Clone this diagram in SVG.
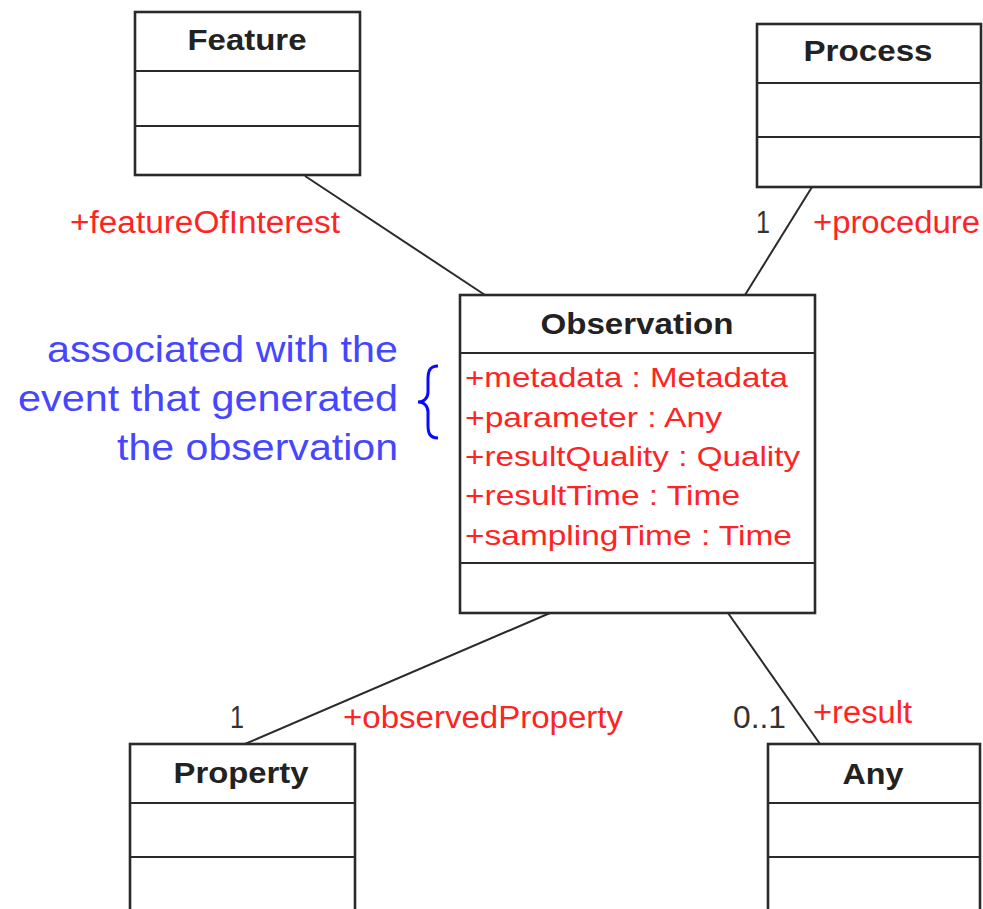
<svg xmlns="http://www.w3.org/2000/svg" width="983" height="909" viewBox="0 0 983 909">
  <style>
    .box { fill: #ffffff; stroke: #2a2a2a; stroke-width: 2.6; }
    .div { stroke: #2a2a2a; stroke-width: 2.2; }
    .conn { stroke: #2a2a2a; stroke-width: 2; fill: none; }
    .title { font-family: "Liberation Sans", Arial, sans-serif; font-weight: bold; font-size: 30px; fill: #222222; text-anchor: middle; }
    .attr { font-family: "Liberation Sans", Arial, sans-serif; font-size: 28.5px; fill: #ff2424; }
    .role { font-family: "Liberation Sans", Arial, sans-serif; font-size: 31px; fill: #ff2424; }
    .mult { font-family: "Liberation Sans", Arial, sans-serif; font-size: 31px; fill: #333333; }
    .note { font-family: "Liberation Sans", Arial, sans-serif; font-size: 37px; fill: #4646ff; text-anchor: end; }
  </style>

  <!-- associations -->
  <g id="connectors">
    <line class="conn" x1="305" y1="176" x2="485" y2="295"/>
    <line class="conn" x1="812" y1="187" x2="745" y2="295"/>
    <line class="conn" x1="550" y1="613" x2="245" y2="744"/>
    <line class="conn" x1="728" y1="613" x2="820" y2="744"/>

    <text class="role" x="70" y="233" textLength="270" lengthAdjust="spacingAndGlyphs">+featureOfInterest</text>
    <text class="mult" x="756" y="233" textLength="14" lengthAdjust="spacingAndGlyphs">1</text>
    <text class="role" x="813" y="233" textLength="167" lengthAdjust="spacingAndGlyphs">+procedure</text>
    <text class="mult" x="230" y="728" textLength="14" lengthAdjust="spacingAndGlyphs">1</text>
    <text class="role" x="343" y="728" textLength="280" lengthAdjust="spacingAndGlyphs">+observedProperty</text>
    <text class="mult" x="733" y="728" textLength="53" lengthAdjust="spacingAndGlyphs">0..1</text>
    <text class="role" x="813" y="723" textLength="99" lengthAdjust="spacingAndGlyphs">+result</text>
  </g>

  <g id="feature">
    <rect class="box" x="135" y="12" width="225" height="163"/>
    <line class="div" x1="135" y1="71" x2="360" y2="71"/>
    <line class="div" x1="135" y1="126" x2="360" y2="126"/>
    <text class="title" x="247" y="50" textLength="119" lengthAdjust="spacingAndGlyphs">Feature</text>
  </g>

  <g id="process">
    <rect class="box" x="757" y="24" width="224" height="163"/>
    <line class="div" x1="757" y1="83" x2="981" y2="83"/>
    <line class="div" x1="757" y1="137" x2="981" y2="137"/>
    <text class="title" x="868" y="61" textLength="129" lengthAdjust="spacingAndGlyphs">Process</text>
  </g>

  <g id="observation">
    <rect class="box" x="460" y="295" width="355" height="318"/>
    <line class="div" x1="460" y1="353" x2="815" y2="353"/>
    <line class="div" x1="460" y1="563" x2="815" y2="563"/>
    <text class="title" x="637" y="334" textLength="193" lengthAdjust="spacingAndGlyphs">Observation</text>
    <text class="attr" x="465" y="387" textLength="323" lengthAdjust="spacingAndGlyphs">+metadata : Metadata</text>
    <text class="attr" x="465" y="427" textLength="257" lengthAdjust="spacingAndGlyphs">+parameter : Any</text>
    <text class="attr" x="465" y="466" textLength="335" lengthAdjust="spacingAndGlyphs">+resultQuality : Quality</text>
    <text class="attr" x="465" y="505" textLength="275" lengthAdjust="spacingAndGlyphs">+resultTime : Time</text>
    <text class="attr" x="465" y="545" textLength="327" lengthAdjust="spacingAndGlyphs">+samplingTime : Time</text>
  </g>

  <g id="property">
    <rect class="box" x="130" y="744" width="225" height="175"/>
    <line class="div" x1="130" y1="803" x2="355" y2="803"/>
    <line class="div" x1="130" y1="857" x2="355" y2="857"/>
    <text class="title" x="241" y="783" textLength="135" lengthAdjust="spacingAndGlyphs">Property</text>
  </g>

  <g id="any">
    <rect class="box" x="768" y="744" width="212" height="175"/>
    <line class="div" x1="768" y1="803" x2="980" y2="803"/>
    <line class="div" x1="768" y1="857" x2="980" y2="857"/>
    <text class="title" x="873" y="784" textLength="61" lengthAdjust="spacingAndGlyphs">Any</text>
  </g>

  <!-- note on the metadata / parameter attributes -->
  <g id="note">
    <text class="note" x="398" y="362" textLength="351" lengthAdjust="spacingAndGlyphs">associated with the</text>
    <text class="note" x="398" y="411" textLength="380" lengthAdjust="spacingAndGlyphs">event that generated</text>
    <text class="note" x="398" y="460" textLength="281" lengthAdjust="spacingAndGlyphs">the observation</text>
    <path d="M438,366 C429,366 428,372 428,380 L428,392 C428,398 424,402 418,402 C424,402 428,406 428,412 L428,425 C428,432 429,438 438,438" fill="none" stroke="#0a0aff" stroke-width="3"/>
  </g>
</svg>
